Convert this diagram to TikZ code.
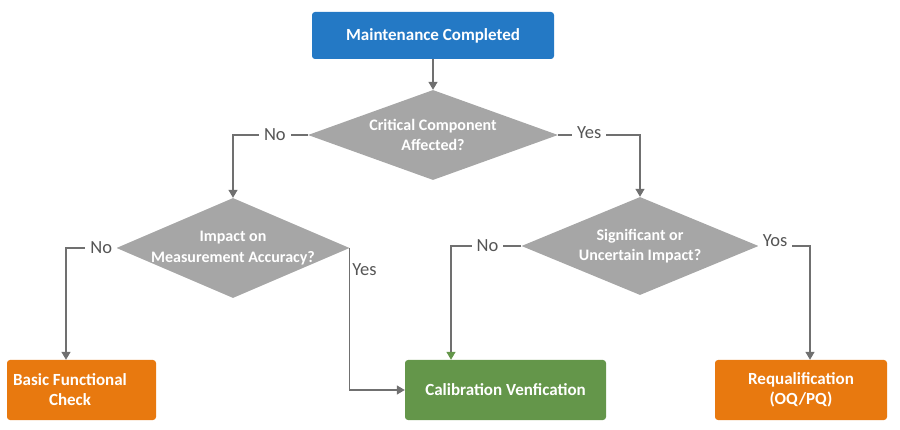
\documentclass[tikz,border=0pt]{standalone}
\usepackage{fontspec}
\setmainfont{Carlito}
\usetikzlibrary{shapes.geometric,arrows.meta}
\definecolor{bblue}{HTML}{2479C5}
\definecolor{dgray}{HTML}{A6A6A6}
\definecolor{borange}{HTML}{E8790F}
\definecolor{bgreen}{HTML}{64964A}
\definecolor{lgray}{HTML}{707070}
\definecolor{tgray}{HTML}{555555}
\tikzset{
  box/.style={rectangle, rounded corners=3pt, draw=none, text=white, font=\fontsize{17}{20}\selectfont\bfseries, align=center, inner sep=0pt},
  dia/.style={diamond, fill=dgray, draw=none, inner sep=0pt},
  dtext/.style={text=white, font=\fontsize{16}{20.5}\selectfont\bfseries, align=center},
  conn/.style={draw=lgray, line width=1.3pt, -{Triangle[length=8pt,width=9pt]}},
  lbl/.style={text=tgray, font=\fontsize{18.5}{21}\selectfont, fill=white, inner xsep=5pt, inner ysep=2pt}
}
\begin{document}
\begin{tikzpicture}[x=1pt,y=-1pt]
\useasboundingbox (0,0) rectangle (900,430);
% boxes
\node[box, fill=bblue, minimum width=242pt, minimum height=47pt] (start) at (433,35.5) {Maintenance Completed};
\node[box, fill=borange, minimum width=149pt, minimum height=60pt] (basic) at (81.5,390) {};
\node[box] (basictxt) at (70,390) {Basic Functional\\Check};
\node[box, fill=bgreen, minimum width=201pt, minimum height=60pt] (cal) at (505.5,390) {Calibration Venfication};
\node[box, fill=borange, minimum width=172pt, minimum height=60pt] (req) at (801,390) {Requalification\\(OQ/PQ)};
% diamonds
\node[dia, minimum width=250pt, minimum height=90pt] (d1) at (433,135) {};
\node[dtext] (d1t) at (d1) {Critical Component\\Affected?};
\node[dia, minimum width=233pt, minimum height=100pt] (d2) at (233,248) {};
\node[dtext] (d2t) at (d2) {Impact on\\Measurement Accuracy?};
\node[dia, minimum width=237pt, minimum height=98pt] (d3) at (640,246) {};
\node[dtext] (d3t) at (d3) {Significant or\\Uncertain Impact?};
% connectors
\draw[conn] (start) -- (d1);
\draw[conn] (d1.west) -| node[lbl, pos=0.22] (no1) {No} (d2.north);
\draw[conn] (d1.east) -| node[lbl, pos=0.19, yshift=2pt] (yes1) {Yes} (d3.north);
\draw[conn] (d2.west) -| node[lbl, pos=0.15] (no2) {No} ([xshift=-15.5pt]basic.north);
\draw[conn] (d2.east) |- node[lbl, pos=0.075, anchor=west, fill=none, inner xsep=2pt] (yes2) {Yes} (cal.west);
\draw[draw=lgray, line width=1.3pt, -{Triangle[length=8pt,width=9pt,color=bgreen]}] (d3.west) -| node[lbl, pos=0.24] (no3) {No} ([xshift=-54.5pt]cal.north);
\draw[conn] (d3.east) -| node[lbl, pos=0.16, yshift=5pt, minimum height=24pt] (yes3) {Yos} ([xshift=9pt]req.north);
\end{tikzpicture}
\end{document}
